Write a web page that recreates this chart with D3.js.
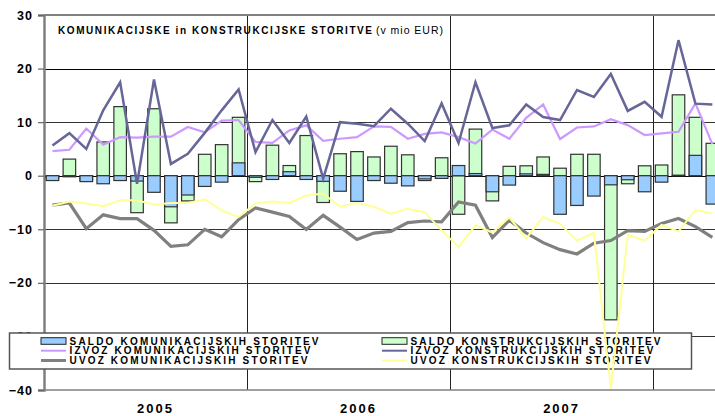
<!DOCTYPE html>
<html>
<head>
<meta charset="utf-8">
<script src="https://cdn.jsdelivr.net/npm/d3@7"></script>
<style>
  body { margin: 0; background: #fff; }
  svg { display: block; font-family: Arial, "Liberation Sans", sans-serif; }
</style>
</head>
<body>
<svg id="chart" width="715" height="416"></svg>
<script>
const years = ["2005", "2006", "2007", "2008"];
const yTicks = [30, 20, 10, 0, -10, -20, -30, -40];

// monthly values, Jan 2005 .. Apr 2008 (mio EUR)
const saldoKom = [
  -0.9, -0.2, -1.1, -1.5, -0.9, -1.0, -3.1, -5.8, -3.6, -2.0, -1.2, 2.4,
  -0.3, -0.7, 0.75, -0.7, -1.05, -2.9, -4.8, -0.9, -1.4, -1.9, -0.6, -0.5,
  1.9, 0.4, -3.0, -1.75, 0.35, 0.25, -7.2, -5.55, -3.8, -1.7, -0.75, -3.0,
  -1.2, 0.1, 3.8, -5.3
];
const saldoKon = [
  -0.4, 3.1, -0.9, 6.3, 12.9, -6.9, 12.5, -8.8, -4.7, 4.0, 5.8, 10.9,
  -1.1, 5.7, 1.9, 7.5, -5.0, 4.1, 4.5, 3.5, 5.5, 3.9, -0.9, 3.35,
  -7.2, 8.7, -4.7, 1.75, 1.85, 3.5, 1.4, 4.0, 4.0, -26.9, -1.5, 1.85,
  2.0, 15.1, 10.9, 6.05
];
const izvozKom = [
  4.6, 4.85, 8.8, 5.8, 7.2, 7.1, 7.3, 7.3, 9.1, 8.1, 10.3, 10.4,
  6.3, 6.15, 8.45, 9.4, 6.5, 6.9, 7.2, 9.2, 9.1, 6.9, 7.8, 8.1,
  7.2, 6.0, 8.6, 6.9, 10.8, 13.3, 6.85, 9.0, 9.2, 10.55, 9.45, 7.6,
  7.9, 8.2, 13.5, 5.9
];
const izvozKon = [
  5.65, 7.95, 5.0, 12.2, 17.45, -1.5, 17.95, 2.2, 4.1, 8.0, 12.2, 16.1,
  4.4, 10.4, 6.1, 11.05, -0.55, 10.0, 9.7, 9.25, 12.5, 9.7, 6.45, 13.5,
  6.1, 17.45, 8.9, 9.4, 13.3, 10.95, 10.4, 16.0, 14.7, 19.0, 12.1, 13.8,
  11.0, 25.3, 13.45, 13.3
];
const uvozKom = [
  -5.5, -5.1, -9.9, -7.3, -8.0, -8.0, -10.2, -13.2, -12.9, -10.0, -11.4, -8.2,
  -6.0, -6.8, -7.6, -10.05, -7.4, -9.6, -11.9, -10.7, -10.4, -8.75, -8.45, -8.6,
  -4.9, -5.5, -11.55, -8.3, -10.7, -12.5, -13.8, -14.6, -12.6, -12.1, -10.25, -10.4,
  -8.9, -8.0, -9.5, -11.5
];
const uvozKon = [
  -5.6, -4.8, -5.2, -5.7, -4.6, -4.6, -5.4, -5.1, -5.1, -4.4, -6.5, -7.7,
  -5.2, -4.8, -5.1, -3.7, -3.35, -5.8, -5.1, -5.8, -7.1, -6.15, -6.8, -10.2,
  -13.3, -9.25, -10.6, -7.8, -11.7, -7.7, -9.0, -12.1, -10.7, -39.8, -11.05, -12.1,
  -9.2, -10.4, -6.4, -7.0
];

const months = years.flatMap((y) => d3.range(1, 13).map((m) => `${y}-${m}`));
const keys = months.slice(0, saldoKom.length);

const width = 715;
const marginLeft = 44;
const marginTop = 15;
const plotBottom = 390;
const step = 16.92;

const svg = d3.select("#chart");

const x = d3
  .scaleBand()
  .domain(months)
  .range([marginLeft, marginLeft + months.length * step])
  .paddingInner(0.26)
  .paddingOuter(0.13);

const y = d3.scaleLinear().domain([-40, 30]).range([plotBottom, marginTop]);

const cellStart = (k) => x(k) - x.step() * x.paddingOuter();
const xMax = x.range()[1];

// grid
const grid = svg.append("g");
grid
  .selectAll("line.h")
  .data(yTicks.filter((d) => d !== 30 && d !== -40))
  .join("line")
  .attr("x1", marginLeft)
  .attr("x2", xMax)
  .attr("y1", (d) => Math.round(y(d)) + 0.5)
  .attr("y2", (d) => Math.round(y(d)) + 0.5)
  .attr("stroke", (d) => (d === 0 || d === 20 ? "#000" : "#333"))
  .attr("stroke-width", 1);

grid
  .selectAll("line.v")
  .data(years.slice(1))
  .join("line")
  .attr("x1", (d) => Math.round(cellStart(`${d}-1`)) + 0.5)
  .attr("x2", (d) => Math.round(cellStart(`${d}-1`)) + 0.5)
  .attr("y1", marginTop)
  .attr("y2", plotBottom)
  .attr("stroke", "#222")
  .attr("stroke-width", 1);

// plot frame
svg
  .append("line")
  .attr("x1", marginLeft)
  .attr("x2", xMax)
  .attr("y1", marginTop)
  .attr("y2", marginTop)
  .attr("stroke", "#808080")
  .attr("stroke-width", 2);
svg
  .append("line")
  .attr("x1", marginLeft)
  .attr("x2", xMax)
  .attr("y1", plotBottom)
  .attr("y2", plotBottom)
  .attr("stroke", "#808080")
  .attr("stroke-width", 1.5);

// y axis
const yAxisG = svg
  .append("g")
  .attr("transform", `translate(${marginLeft},0)`)
  .call(d3.axisLeft(y).tickValues(yTicks).tickSize(6).tickPadding(5));
yAxisG.select(".domain").attr("stroke", "#808080").attr("stroke-width", 2.5);
yAxisG.selectAll(".tick line").attr("stroke", "#666").attr("stroke-width", 1.2);
yAxisG
  .selectAll(".tick text")
  .attr("fill", "#000")
  .attr("font-size", 12.5)
  .attr("font-weight", "bold")
  .attr("letter-spacing", 1)
  .attr("font-family", "Arial, 'Liberation Sans', sans-serif");

// year labels (only those inside the visible area)
const yearLabelX = (d) => cellStart(`${d}-1`) + 6 * x.step() + 10;
svg
  .append("g")
  .selectAll("text")
  .data(years.filter((d) => yearLabelX(d) + 20 < width))
  .join("text")
  .attr("x", yearLabelX)
  .attr("y", 413)
  .attr("text-anchor", "middle")
  .attr("font-size", 13)
  .attr("font-weight", "bold")
  .attr("letter-spacing", 2)
  .text((d) => d);

// title
svg
  .append("text")
  .attr("x", 58)
  .attr("y", 34)
  .attr("font-size", 10)
  .attr("font-weight", "bold")
  .attr("textLength", 314)
  .attr("lengthAdjust", "spacing")
  .text("KOMUNIKACIJSKE in KONSTRUKCIJSKE STORITVE");
svg
  .append("text")
  .attr("x", 376)
  .attr("y", 34)
  .attr("font-size", 10.5)
  .attr("textLength", 67)
  .attr("lengthAdjust", "spacing")
  .text("(v mio EUR)");

// legend (drawn under the marks)
const legend = svg.append("g");
legend
  .append("rect")
  .attr("x", 9.5)
  .attr("y", 333)
  .attr("width", 682)
  .attr("height", 36)
  .attr("fill", "#fff")
  .attr("stroke", "#555")
  .attr("stroke-width", 1.5);

const legendItems = [
  { label: "SALDO KOMUNIKACIJSKIH STORITEV", type: "rect", color: "#99ccff", col: 0, row: 0, w: 249 },
  { label: "IZVOZ KOMUNIKACIJSKIH STORITEV", type: "line", color: "#cc99ff", sw: 2, col: 0, row: 1, w: 241 },
  { label: "UVOZ KOMUNIKACIJSKIH STORITEV", type: "line", color: "#808080", sw: 3, col: 0, row: 2, w: 238 },
  { label: "SALDO KONSTRUKCIJSKIH STORITEV", type: "rect", color: "#ccffcc", col: 1, row: 0, w: 250 },
  { label: "IZVOZ KONSTRUKCIJSKIH STORITEV", type: "line", color: "#666699", sw: 2, col: 1, row: 1, w: 243 },
  { label: "UVOZ KONSTRUKCIJSKIH STORITEV", type: "line", color: "#ffff99", sw: 2, col: 1, row: 2, w: 240 },
];
const colX = [41, 382];
const rowY = [341, 350.7, 360.5];

legendItems.forEach((d) => {
  const g = legend.append("g").attr("transform", `translate(${colX[d.col]},${rowY[d.row]})`);
  if (d.type === "rect") {
    g.append("rect")
      .attr("x", 0)
      .attr("y", -3.3)
      .attr("width", 25)
      .attr("height", 6.6)
      .attr("fill", d.color)
      .attr("stroke", "#222")
      .attr("stroke-width", 1);
  } else {
    g.append("line")
      .attr("x1", 0)
      .attr("x2", 25)
      .attr("y1", 0)
      .attr("y2", 0)
      .attr("stroke", d.color)
      .attr("stroke-width", d.sw);
  }
  g.append("text")
    .attr("x", 28.5)
    .attr("y", 3.7)
    .attr("font-size", 10)
    .attr("font-weight", "bold")
    .attr("textLength", d.w)
    .attr("lengthAdjust", "spacing")
    .text(d.label);
});

// bars: construction first, communication on top (100% overlap)
const barSeries = [
  { values: saldoKon, color: "#ccffcc" },
  { values: saldoKom, color: "#99ccff" },
];
barSeries.forEach((s) => {
  svg
    .append("g")
    .selectAll("rect")
    .data(s.values)
    .join("rect")
    .attr("x", (d, i) => x(keys[i]))
    .attr("width", x.bandwidth())
    .attr("y", (d) => y(Math.max(0, d)))
    .attr("height", (d) => Math.abs(y(d) - y(0)))
    .attr("fill", s.color)
    .attr("stroke", "#333")
    .attr("stroke-width", 1.2);
});

// lines
const lineSeries = [
  { values: izvozKom, color: "#cc99ff", width: 2.2 },
  { values: izvozKon, color: "#666699", width: 2.5 },
  { values: uvozKom, color: "#808080", width: 3.2 },
  { values: uvozKon, color: "#ffff99", width: 2 },
];
const line = d3
  .line()
  .x((d, i) => x(keys[i]) + x.bandwidth() / 2)
  .y((d) => y(d));

svg
  .append("g")
  .selectAll("path")
  .data(lineSeries)
  .join("path")
  .attr("fill", "none")
  .attr("stroke", (d) => d.color)
  .attr("stroke-width", (d) => d.width)
  .attr("stroke-linejoin", "miter")
  .attr("d", (d) => line(d.values));
</script>
</body>
</html>
